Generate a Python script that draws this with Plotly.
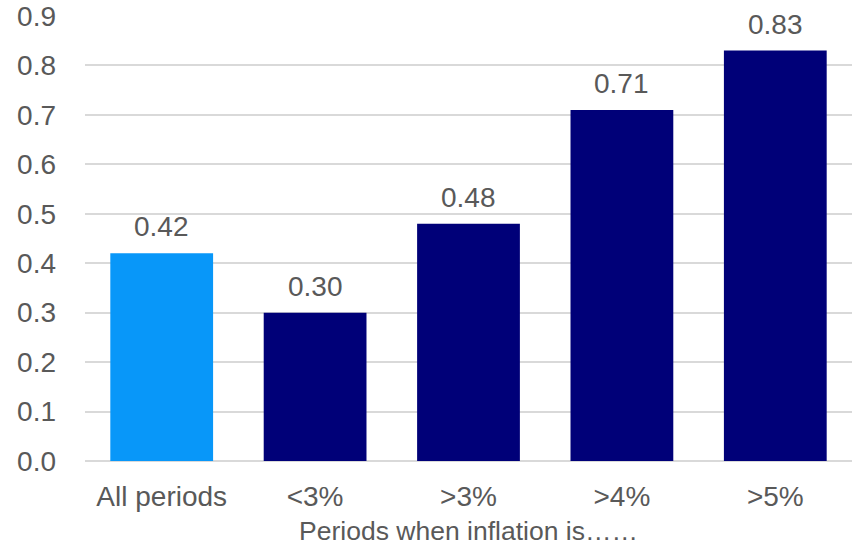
import plotly.graph_objects as go

# Average value by inflation regime
categories = ["All periods", "<3%", ">3%", ">4%", ">5%"]
values = [0.42, 0.30, 0.48, 0.71, 0.83]
bar_colors = ["#0897F9", "#000078", "#000078", "#000078", "#000078"]

FONT = "Liberation Sans, Arial, sans-serif"
SIZE = 28
TEXT_GRAY = "#595959"
GRID = "#D9D9D9"

fig = go.Figure(
    go.Bar(
        x=categories,
        y=values,
        marker=dict(color=bar_colors, line=dict(width=0)),
        hovertemplate="%{x}: %{y:.2f}<extra></extra>",
    )
)

# Value labels sitting above each bar
for cat, val in zip(categories, values):
    fig.add_annotation(
        x=cat,
        y=val,
        text=f"{val:.2f}",
        showarrow=False,
        yanchor="bottom",
        yshift=9,
        font=dict(family=FONT, size=SIZE, color=TEXT_GRAY),
    )

fig.update_layout(
    width=859,
    height=546,
    margin=dict(l=85, r=7, t=16, b=85, autoexpand=False),
    plot_bgcolor="white",
    paper_bgcolor="white",
    bargap=0.33,
    showlegend=False,
    font=dict(family=FONT, size=SIZE, color=TEXT_GRAY),
)

fig.update_xaxes(
    automargin=False,
    showgrid=False,
    showline=False,
    ticks="",
    tickfont=dict(family=FONT, size=SIZE, color=TEXT_GRAY),
    ticklabelstandoff=16,
    title=dict(
        text="Periods when inflation is……",
        font=dict(family=FONT, size=26.5, color=TEXT_GRAY),
        standoff=10,
    ),
)

fig.update_yaxes(
    automargin=False,
    range=[0, 0.9],
    dtick=0.1,
    tick0=0,
    tickformat=".1f",
    showgrid=True,
    gridcolor=GRID,
    gridwidth=2,
    zeroline=True,
    zerolinecolor=GRID,
    zerolinewidth=2,
    showline=False,
    ticks="",
    ticklabelstandoff=28,
    tickfont=dict(family=FONT, size=SIZE, color=TEXT_GRAY),
)

fig.write_html("out.html")
